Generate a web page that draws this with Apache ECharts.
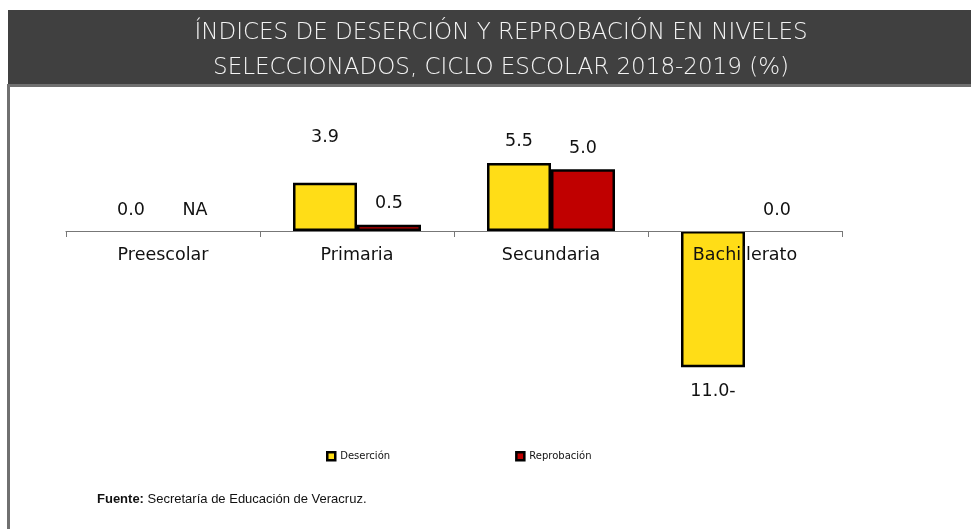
<!DOCTYPE html>
<html>
<head>
<meta charset="utf-8">
<script src="https://cdn.jsdelivr.net/npm/echarts@6/dist/echarts.min.js"></script>
<style>
  html, body { margin: 0; padding: 0; background: #fff; }
  #chart { width: 971px; height: 529px; }
</style>
</head>
<body>
<div id="chart"></div>
<script>
// data
var niveles = ['Preescolar', 'Primaria', 'Secundaria', 'Bachillerato'];
var desercion = [0.0, 3.9, 5.5, -11.0];
var reprobacion = ['NA', 0.5, 5.0, 0.0];
var serieNombres = ['Deserción', 'Reprobación'];
var tituloLineas = ['ÍNDICES DE DESERCIÓN Y REPROBACIÓN EN NIVELES', 'SELECCIONADOS, CICLO ESCOLAR 2018-2019 (%)'];

var chart = echarts.init(document.getElementById('chart'));

var fmt = function (v) {
  if (v === 'NA') return 'NA';
  return Math.abs(v).toFixed(1) + (v < 0 ? '-' : '');
};

function buildData(arr, liftIdx) {
  return arr.map(function (v, i) {
    var num = v === 'NA' ? 0 : v;
    var item = { value: num };
    item.label = { formatter: fmt(v) };
    if (num === 0) item.itemStyle = { borderWidth: 0 };
    if (num < 0) { item.label.position = 'bottom'; item.label.distance = 15; }
    if (i === liftIdx) item.label.distance = 36;
    return item;
  });
}

var labelStyle = {
  show: true,
  position: 'top',
  distance: 12,
  fontFamily: 'DejaVu Sans',
  fontSize: 17.5,
  color: '#111'
};

var option = {
  animation: false,
  title: {
    text: tituloLineas.join('\n'),
    left: 496,
    top: 11,
    textAlign: 'center',
    textStyle: {
      fontFamily: 'DejaVu Sans',
      fontWeight: 300,
      fontSize: 23,
      lineHeight: 35,
      color: '#f4f4f4'
    }
  },
  graphic: [
    { type: 'rect', z: -1, shape: { x: 8, y: 10, width: 963, height: 74 }, style: { fill: '#404040' } },
    { type: 'rect', z: -1, shape: { x: 7, y: 84, width: 964, height: 3 }, style: { fill: '#707070' } },
    { type: 'rect', z: -1, shape: { x: 7, y: 84, width: 3, height: 445 }, style: { fill: '#707070' } },
    {
      type: 'text', left: 97, top: 493,
      style: {
        text: '{b|Fuente:} Secretaría de Educación de Veracruz.',
        rich: {
          b: { fontFamily: 'Liberation Sans', fontWeight: 'bold', fontSize: 13, fill: '#111' }
        },
        fontFamily: 'Liberation Sans', fontSize: 13, fill: '#111'
      }
    }
  ],
  legend: {
    data: serieNombres,
    left: 321,
    top: 446,
    icon: 'rect',
    itemWidth: 8,
    itemHeight: 8,
    itemGap: 125,
    itemStyle: { borderWidth: 2.5, borderColor: '#000' },
    textStyle: { fontFamily: 'DejaVu Sans', fontSize: 10, color: '#111' }
  },
  // the plot's lower edge sits on the zero line; the negative bar is drawn beyond it
  grid: { left: 66, right: 129, top: 132, bottom: 298 },
  xAxis: {
    type: 'category',
    data: niveles,
    z: 10,
    axisLine: { lineStyle: { color: '#777', width: 1.2 } },
    axisTick: { show: true, length: 6, lineStyle: { color: '#777' } },
    axisLabel: { fontFamily: 'DejaVu Sans', fontSize: 17.5, color: '#111', margin: 15 }
  },
  yAxis: {
    type: 'value',
    min: 0,
    max: 8,
    interval: 4,
    show: false,
    splitLine: { show: false }
  },
  series: [
    {
      name: serieNombres[0],
      type: 'bar',
      clip: false,
      barWidth: 64,
      barGap: '0%',
      data: buildData(desercion, 1),
      itemStyle: { color: '#FFDD17', borderColor: '#000', borderWidth: 2.5 },
      label: labelStyle
    },
    {
      name: serieNombres[1],
      type: 'bar',
      clip: false,
      barWidth: 64,
      barGap: '0%',
      data: buildData(reprobacion, -1),
      itemStyle: { color: '#C00000', borderColor: '#000', borderWidth: 2.5 },
      label: labelStyle
    }
  ]
};

chart.setOption(option);
</script>
</body>
</html>
